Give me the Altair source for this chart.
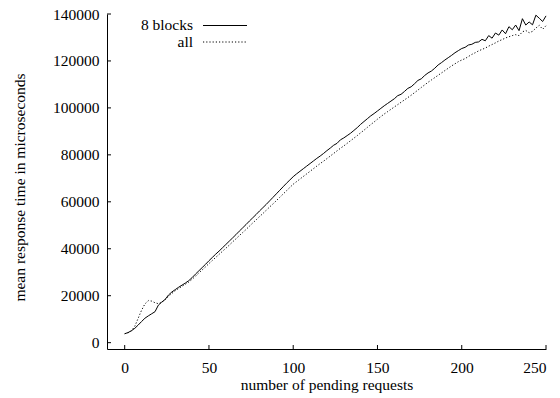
import altair as alt
import pandas as pd

series_names = ["8 blocks", "all"]

x_values = list(range(0, 251, 2))

blocks8 = [
    3800, 4300, 5100, 6100, 7500, 9000, 10400, 11400, 12300, 13200,
    16000, 17300, 18400, 20300, 21600, 22600, 23600, 24500, 25400, 26400,
    27700, 29200, 30600,
    32000, 33400, 34900, 36300, 37700, 39000, 40400, 41800, 43200, 44600,
    46000, 47500, 48900, 50300, 51800, 53200, 54600, 56100, 57500, 58900,
    60400, 61900, 63400, 64900, 66400, 67900, 69300,
    70700, 71900, 73000, 74100, 75200, 76300, 77400, 78500, 79500, 80600,
    81800, 82900, 84100, 84900, 86400, 87200, 88200, 89200, 90400, 91600,
    93000,
    94200, 95400, 96600, 97600, 98700, 99800, 100900, 101900, 102900, 103900,
    105200, 105800, 107000, 108300, 109000, 110300, 111700, 112400, 113800, 114900,
    115700, 116900,
    118300, 119300, 120400, 121400, 122400, 123500, 124400, 125300, 125800, 126800,
    127100, 127900, 128100, 129200, 128600, 130800, 129700, 131900, 131000, 133200,
    131600, 134600, 133300, 135300, 132900, 138000, 135300, 136600, 135400, 139500,
    138200, 136800, 139200,
]

all_blocks = [
    3800, 4200, 5000, 7000, 10400, 13800, 16500, 17900, 17700, 17000,
    16600, 17200, 18300, 19700, 21000, 22100, 23100, 24000, 24900, 25800,
    27000, 28300, 29700,
    31000, 32300, 33700, 35000, 36300, 37600, 38900, 40200, 41500, 42900,
    44200, 45600, 46900, 48200, 49600, 51000, 52300, 53700, 55000, 56400,
    57800, 59100, 60500, 61900, 63300, 64700, 66100,
    67500, 68600, 69700, 70800, 71900, 73000, 74100, 75200, 76300, 77300,
    78400, 79500, 80600, 81700, 82800, 83800, 84900, 86000, 87100, 88200,
    89400,
    90500, 91700, 92900, 94000, 95200, 96300, 97400, 98400, 99400, 100400,
    101400, 102400, 103400, 104400, 105400, 106500, 107600, 108700, 109800, 110900,
    111900, 112900,
    113900, 114900, 115900, 116900, 117900, 118800, 119700, 120400, 121000, 121900,
    122800, 123500, 124300, 124900, 125500, 126300, 127000, 127700, 128500, 129100,
    129800, 130300, 130800, 131200, 130800, 132400, 133000, 132000, 132600, 134000,
    135200, 133500, 135000,
]

x_ticks = [0, 50, 100, 150, 200, 250]
y_ticks = [0, 20000, 40000, 60000, 80000, 100000, 120000, 140000]

FONT = "Liberation Serif"
FS = 15.5
W, H = 439, 335

df = pd.DataFrame({
    "x": x_values * 2,
    "y": blocks8 + all_blocks,
    "series": [series_names[0]] * len(x_values) + [series_names[1]] * len(x_values),
})

xscale = alt.Scale(domain=[-10.5, 250], nice=False, zero=False)
yscale = alt.Scale(domain=[-2700, 140000], nice=False, zero=False)

xaxis = alt.Axis(
    values=x_ticks, format="d", grid=False, ticks=False,
    labelBaseline="alphabetic", labelPadding=23,
    title="number of pending requests",
    titleBaseline="alphabetic", titleY=40,
)
yaxis = alt.Axis(
    values=y_ticks, format="d", grid=False, ticks=False,
    labelPadding=8,
    title="mean response time in microseconds",
    titleBaseline="alphabetic", titleX=-83, titleY=173, titleAngle=-90,
)

solid = alt.Chart(df).transform_filter(alt.datum.series == series_names[0]).mark_line(
    color="black", strokeWidth=1
).encode(
    x=alt.X("x:Q", scale=xscale, axis=xaxis),
    y=alt.Y("y:Q", scale=yscale, axis=yaxis),
)
dotted = alt.Chart(df).transform_filter(alt.datum.series == series_names[1]).mark_line(
    color="black", strokeWidth=1, strokeDash=[1.2, 2]
).encode(
    x=alt.X("x:Q", scale=xscale),
    y=alt.Y("y:Q", scale=yscale),
)

xt = alt.Chart(pd.DataFrame({"t": x_ticks})).mark_rule(color="black", strokeWidth=1).encode(
    x=alt.X("t:Q", scale=xscale), y=alt.value(H), y2=alt.value(H - 4)
)
yt = alt.Chart(pd.DataFrame({"t": y_ticks})).mark_rule(color="black", strokeWidth=1).encode(
    y=alt.Y("t:Q", scale=yscale), x=alt.value(0), x2=alt.value(4)
)

leg_df = pd.DataFrame({"series": series_names})
layers = [solid, dotted, xt, yt]
for i, name in enumerate(series_names):
    yy = 11 + 16.5 * i
    layers.append(
        alt.Chart(leg_df).transform_filter(alt.datum.series == name).mark_text(
            align="right", baseline="middle", fontSize=FS, color="black"
        ).encode(text="series:N", x=alt.value(86), y=alt.value(yy))
    )
    rule = alt.Chart(leg_df).transform_filter(alt.datum.series == name)
    if i == 0:
        rule = rule.mark_rule(color="black", strokeWidth=1)
    else:
        rule = rule.mark_rule(color="black", strokeWidth=1, strokeDash=[1.2, 2])
    layers.append(rule.encode(x=alt.value(96), x2=alt.value(140), y=alt.value(yy + 0.5)))

chart = alt.layer(*layers).properties(
    width=W, height=H,
    autosize=alt.AutoSizeParams(type="none"),
    padding={"left": 99, "top": 6, "right": 6, "bottom": 44},
).configure(
    background="white", font=FONT
).configure_view(
    stroke=None
).configure_axis(
    labelFont=FONT, titleFont=FONT, labelFontSize=FS, titleFontSize=FS,
    labelColor="black", titleColor="black", titleFontWeight="normal",
    domainColor="black", domainWidth=1,
).configure_text(font=FONT)

chart.save("out.html", embed_options={"renderer": "svg", "actions": False})
